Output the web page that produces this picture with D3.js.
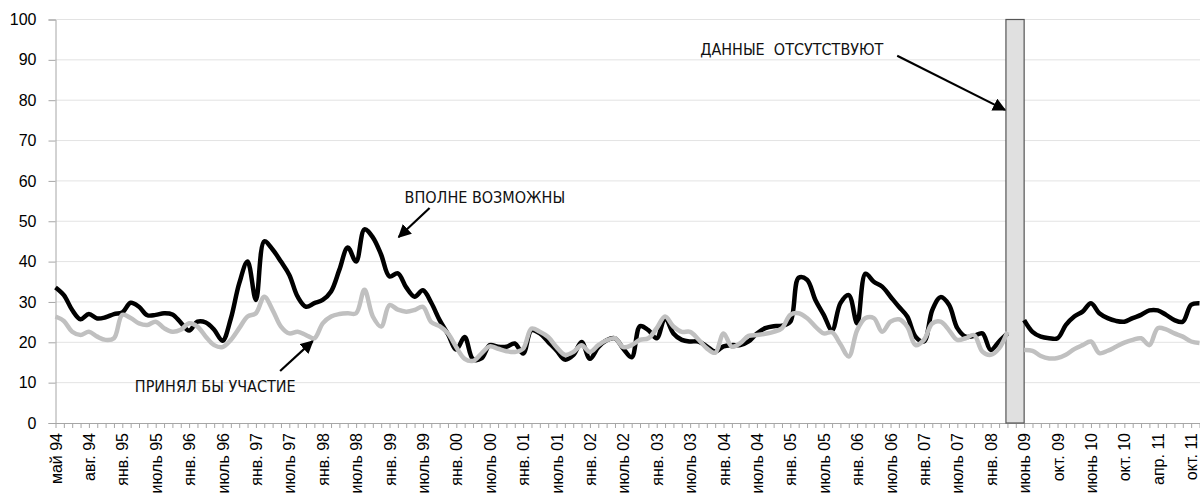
<!DOCTYPE html>
<html>
  <head>
    <meta charset="utf-8">
    <style>
      body { margin: 0; padding: 0; background: #fff; }
      svg { display: block; }
      .tick text { fill: #000; }
      .note { font-family: "Liberation Sans Narrow", "Arial Narrow", "DejaVu Sans Condensed", sans-serif; font-size: 16px; fill: #111; }
    </style>
  </head>
  <body>
    <svg width="1200" height="493"></svg>
    <script src="https://cdn.jsdelivr.net/npm/d3@7"></script>
    <script>
      // category labels, one every 4 survey points
      var monthLabels = ["май 94", "авг. 94", "янв. 95", "июль 95", "янв. 96", "июль 96", "янв. 97",
        "июль 97", "янв. 98", "июль 98", "янв. 99", "июль 99", "янв. 00", "июль 00", "янв. 01",
        "июль 01", "янв. 02", "июль 02", "янв. 03", "июль 03", "янв. 04", "июль 04", "янв. 05",
        "июль 05", "янв. 06", "июль 06", "янв. 07", "июль 07", "янв. 08", "июнь 09", "окт. 09",
        "июнь 10", "окт. 10", "апр. 11", "окт. 11"];

      // "вполне возможны" (black)
      var possible = [
        33.6, 31.7, 28.0, 25.7, 27.0, 25.9, 26.2, 27.0, 27.4, 29.8,
        28.8, 26.7, 26.8, 27.2, 26.9, 24.9, 22.9, 25.1, 24.9, 23.1,
        20.4, 25.9, 34.6, 40.0, 30.5, 45.0, 43.0, 40.0, 36.7, 31.3,
        28.8, 29.7, 30.5, 32.6, 38.0, 43.5, 40.0, 48.0, 46.0, 41.7,
        36.3, 37.1, 33.6, 31.3, 32.9, 29.8, 25.5, 22.0, 18.2, 21.3,
        15.8, 16.0, 19.3, 18.9, 18.9, 19.7, 17.2, 23.0, 22.2, 20.1,
        18.0, 15.7, 16.8, 20.1, 15.9, 18.8, 20.5, 21.0, 18.4, 16.3,
        24.0, 23.0, 21.0, 26.0, 22.2, 20.6, 20.2, 20.2, 19.0, 17.7,
        19.0, 19.3, 19.3, 20.2, 22.2, 23.5, 24.0, 24.1, 25.1, 36.0,
        35.5, 30.5, 26.8, 23.0, 29.7, 31.7, 24.7, 37.0, 35.0, 33.8,
        31.3, 28.8, 26.4, 21.4, 20.2, 28.0, 31.2, 29.3, 23.5, 21.4,
        21.6, 22.2, 18.1, 20.2, 22.2, null, 25.5, 22.6, 21.4, 21.0,
        21.0, 24.3, 26.4, 27.6, 29.7, 27.2, 26.0, 25.3, 25.1, 26.0,
        26.8, 27.9, 27.9, 26.8, 25.5, 25.1, 29.3, 29.7
      ];

      // "принял бы участие" (grey)
      var wouldJoin = [
        26.4, 25.3, 22.6, 21.8, 22.6, 21.4, 20.6, 21.0, 26.8, 26.0,
        24.7, 24.3, 25.1, 23.5, 22.6, 23.1, 24.7, 23.9, 21.4, 19.3,
        18.8, 20.6, 23.5, 26.4, 27.2, 31.3, 28.0, 23.9, 22.2, 22.6,
        21.8, 21.0, 24.7, 26.4, 27.0, 27.2, 27.2, 33.0, 26.4, 23.9,
        29.2, 28.1, 27.6, 28.0, 28.8, 25.0, 24.0, 22.2, 18.8, 15.9,
        15.4, 17.2, 19.0, 18.4, 17.8, 17.6, 18.4, 23.4, 22.6, 21.3,
        18.8, 16.9, 17.6, 19.3, 17.6, 19.3, 20.5, 21.0, 18.8, 19.3,
        20.6, 21.0, 23.5, 26.4, 23.9, 22.6, 22.6, 20.7, 18.5, 17.4,
        22.2, 18.9, 19.8, 21.6, 21.8, 22.1, 22.6, 23.5, 26.8, 27.2,
        26.0, 23.9, 22.2, 22.5, 19.5, 16.5, 23.0, 26.0, 26.0, 22.6,
        25.1, 25.7, 23.9, 19.3, 20.6, 24.7, 25.1, 23.0, 20.6, 21.0,
        21.8, 17.7, 16.9, 18.5, 22.6, null, 18.1, 17.9, 16.6, 16.0,
        16.1, 16.9, 18.3, 19.3, 20.2, 17.3, 17.9, 18.9, 19.9, 20.6,
        21.0, 19.3, 23.5, 23.2, 22.2, 21.4, 20.2, 19.8
      ];

      var yTicks = [0, 10, 20, 30, 40, 50, 60, 70, 80, 90, 100];
      var gap = [114, 116];   // no survey data between these points

      var svg = d3.select("svg");
      var n = possible.length;

      var x = d3.scaleLinear().domain([0, n - 1]).range([55.5, 1199.5]);
      var y = d3.scaleLinear().domain([0, 100]).range([423, 19.5]);

      // grid
      svg.append("g")
        .selectAll("line")
        .data(yTicks.slice(1))
        .enter().append("line")
        .attr("x1", x(0)).attr("x2", 1200)
        .attr("y1", d => y(d)).attr("y2", d => y(d))
        .attr("stroke", "#e3e3e3").attr("stroke-width", 1);

      // y axis
      var yAxis = svg.append("g")
        .attr("transform", `translate(${x(0)},0)`)
        .call(d3.axisLeft(y).tickValues(yTicks).tickSize(7).tickPadding(12));
      yAxis.selectAll("path, line").attr("stroke", "#a6a6a6");
      yAxis.selectAll("text")
        .attr("font-family", "Liberation Sans, Arial, sans-serif")
        .attr("font-size", 16);

      // x axis
      var xAxis = svg.append("g")
        .attr("transform", `translate(0,${y(0)})`)
        .call(d3.axisBottom(x)
          .tickValues(d3.range(0, n))
          .tickSizeInner(5).tickSizeOuter(0)
          .tickFormat(i => i % 4 === 0 ? monthLabels[i / 4] : ""));
      xAxis.selectAll("path, line").attr("stroke", "#a6a6a6");
      xAxis.selectAll("text")
        .attr("font-family", "Liberation Sans, Arial, sans-serif")
        .attr("font-size", 16)
        .attr("text-anchor", "end")
        .attr("transform", "rotate(-90)")
        .attr("x", -10).attr("y", 0).attr("dy", "0.35em");

      // missing data box
      svg.append("rect")
        .attr("x", x(gap[0]) - 1.5)
        .attr("y", y(100))
        .attr("width", x(gap[1]) - x(gap[0]) + 1.5)
        .attr("height", y(0) - y(100))
        .attr("fill", "#e0e0e0")
        .attr("stroke", "#555")
        .attr("stroke-width", 1.2);

      var line = d3.line()
        .defined(d => d != null)
        .x((d, i) => x(i))
        .y(d => y(d))
        .curve(d3.curveCatmullRom);

      svg.append("path")
        .datum(possible)
        .attr("d", line)
        .attr("fill", "none")
        .attr("stroke", "#000")
        .attr("stroke-width", 4.5)
        .attr("stroke-linejoin", "round");

      svg.append("path")
        .datum(wouldJoin)
        .attr("d", line)
        .attr("fill", "none")
        .attr("stroke", "#c0c0c0")
        .attr("stroke-width", 4.5)
        .attr("stroke-linejoin", "round");

      // annotations, positioned in data units
      svg.append("defs").append("marker")
        .attr("id", "head")
        .attr("viewBox", "0 0 10 10")
        .attr("refX", 9).attr("refY", 5)
        .attr("markerWidth", 6).attr("markerHeight", 6)
        .attr("orient", "auto")
        .append("path")
        .attr("d", "M0,0L10,5L0,10z")
        .attr("fill", "#000");

      var notes = [
        { text: "ВПОЛНЕ ВОЗМОЖНЫ", at: [41.8, 54.5], from: [44.8, 53.3], to: [41.1, 46.1] },
        { text: "ПРИНЯЛ БЫ УЧАСТИЕ", at: [9.5, 7.7], from: [26.9, 12.9], to: [30.8, 20.3] },
        { text: "ДАННЫЕ  ОТСУТСТВУЮТ", at: [77.2, 91.2], from: [100.8, 91], to: [113.7, 77.6] }
      ];

      svg.append("g")
        .selectAll("line")
        .data(notes)
        .enter().append("line")
        .attr("x1", d => x(d.from[0])).attr("y1", d => y(d.from[1]))
        .attr("x2", d => x(d.to[0])).attr("y2", d => y(d.to[1]))
        .attr("stroke", "#000").attr("stroke-width", 2.2)
        .attr("marker-end", "url(#head)");

      svg.append("g")
        .selectAll("text")
        .data(notes)
        .enter().append("text")
        .attr("class", "note")
        .attr("x", d => x(d.at[0])).attr("y", d => y(d.at[1]))
        .style("white-space", "pre")
        .text(d => d.text);
    </script>
  </body>
</html>
